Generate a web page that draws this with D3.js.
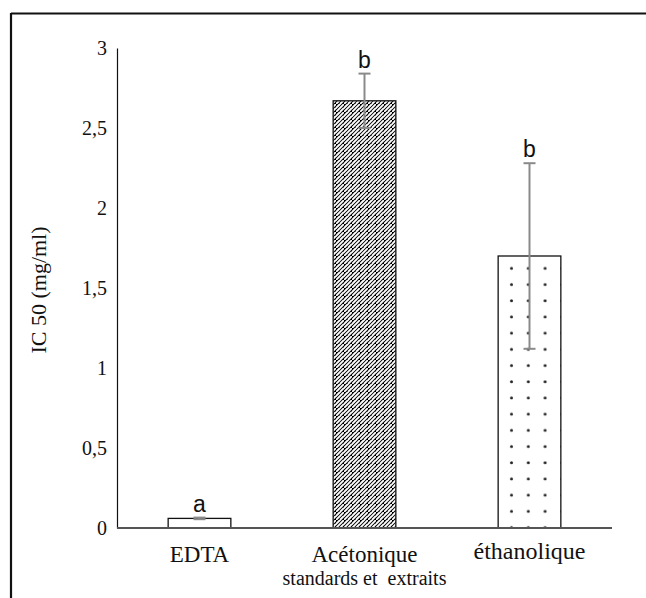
<!DOCTYPE html>
<html>
<head>
<meta charset="utf-8">
<script src="https://cdn.jsdelivr.net/npm/d3@7"></script>
<style>
  html, body { margin: 0; padding: 0; background: #fff; }
  svg { display: block; }
  .serif { font-family: "Liberation Serif", "Times New Roman", serif; }
  .sans { font-family: "Liberation Sans", Arial, sans-serif; }
</style>
</head>
<body>
<svg id="chart" width="646" height="598"></svg>
<script>
// IC 50 values per extract, with standard deviations and significance letters
const categories = ["EDTA", "Acétonique", "éthanolique"];
const values = [0.06, 2.67, 1.70];
const errors = [0.005, 0.17, 0.58];
const letters = ["a", "b", "b"];
const yTicks = [0, 0.5, 1, 1.5, 2, 2.5, 3];
const patterns = ["none", "diag", "dots"];

const svg = d3.select("#chart");

const margin = { left: 117, right: 34, top: 48, bottom: 70 };
const W = 646, H = 598;

const x = d3.scaleBand()
  .domain(categories)
  .range([margin.left, W - margin.right])
  .paddingInner(0.62)
  .paddingOuter(0.31);

const y = d3.scaleLinear()
  .domain([0, 3])
  .range([H - margin.bottom, margin.top]);

// Fill patterns: upward diagonal and sparse dots
const defs = svg.append("defs");
const diag = defs.append("pattern")
  .attr("id", "diag")
  .attr("patternUnits", "userSpaceOnUse")
  .attr("width", 8).attr("height", 8);
diag.append("rect").attr("width", 8).attr("height", 8).attr("fill", "#000");
diag.append("path")
  .attr("d", "M0,4 L4,0 M4,8 L8,4 M-4,8 L0,4 M4,0 L8,-4 M0,8 L8,0")
  .attr("stroke", "#fff").attr("stroke-width", 1.9);

const dots = defs.append("pattern")
  .attr("id", "dots")
  .attr("patternUnits", "userSpaceOnUse")
  .attr("x", 503).attr("y", 260)
  .attr("width", 16.8).attr("height", 16.2);
dots.append("rect").attr("width", 16.8).attr("height", 16.2).attr("fill", "#fff");
dots.append("circle").attr("cx", 8.5).attr("cy", 8.3).attr("r", 1.5).attr("fill", "#222");

// Frame (top and left edges)
svg.append("line").attr("x1", 11).attr("x2", W).attr("y1", 13.5).attr("y2", 13.5)
  .attr("stroke", "#111").attr("stroke-width", 2.2);
svg.append("line").attr("x1", 11).attr("x2", 11).attr("y1", 13).attr("y2", H)
  .attr("stroke", "#111").attr("stroke-width", 2.2);

// Bars
const bw = x.bandwidth();
svg.selectAll("rect.bar")
  .data(categories)
  .join("rect")
  .attr("class", "bar")
  .attr("x", d => x(d))
  .attr("width", bw)
  .attr("y", (d, i) => y(values[i]))
  .attr("height", (d, i) => y(0) - y(values[i]))
  .attr("fill", (d, i) => patterns[i] === "none" ? "#fff" : `url(#${patterns[i]})`)
  .attr("stroke", "#111")
  .attr("stroke-width", 1.3);

// Error bars
const eg = svg.append("g").attr("stroke", "#8a8a8a").attr("stroke-width", 2);
categories.forEach((c, i) => {
  const cx = x(c) + bw / 2;
  const top = y(values[i] + errors[i]);
  const bot = y(values[i] - errors[i]);
  eg.append("line").attr("x1", cx).attr("x2", cx).attr("y1", top).attr("y2", bot);
  eg.append("line").attr("x1", cx - 6).attr("x2", cx + 6).attr("y1", top).attr("y2", top);
  eg.append("line").attr("x1", cx - 6).attr("x2", cx + 6).attr("y1", bot).attr("y2", bot);
});

// Y axis
const yAxis = d3.axisLeft(y)
  .tickValues(yTicks)
  .tickSize(0)
  .tickPadding(10)
  .tickFormat(d => String(d).replace(".", ","));
const ya = svg.append("g")
  .attr("transform", `translate(${margin.left},0)`)
  .call(yAxis);
ya.attr("font-family", null).attr("font-size", null);
ya.select(".domain").attr("stroke", "#111").attr("stroke-width", 1.2);
ya.selectAll("text")
  .attr("class", "serif")
  .style("font-size", "20px")
  .attr("fill", "#111");

// X baseline
svg.append("line")
  .attr("x1", margin.left).attr("x2", W - margin.right)
  .attr("y1", y(0)).attr("y2", y(0))
  .attr("stroke", "#555").attr("stroke-width", 2);

// Category labels
const labelY = [562, 562, 559];
const labelSize = [23, 23, 24];
categories.forEach((c, i) => {
  svg.append("text")
    .attr("class", "serif")
    .attr("x", x(c) + bw / 2)
    .attr("y", labelY[i])
    .attr("text-anchor", "middle")
    .style("font-size", labelSize[i] + "px")
    .attr("fill", "#111")
    .text(c);
});
svg.append("text")
  .attr("class", "serif")
  .attr("x", x(categories[1]) + bw / 2)
  .attr("y", 585)
  .attr("text-anchor", "middle")
  .style("font-size", "20px")
  .attr("fill", "#111")
  .style("white-space", "pre")
  .text("standards et  extraits");

// Significance letters
categories.forEach((c, i) => {
  svg.append("text")
    .attr("class", "sans")
    .attr("x", x(c) + bw / 2)
    .attr("y", y(values[i] + errors[i]) - 6)
    .attr("text-anchor", "middle")
    .style("font-size", "23px")
    .attr("fill", "#111")
    .text(letters[i]);
});

// Y axis title
svg.append("text")
  .attr("class", "serif")
  .attr("transform", `translate(46,290) rotate(-90)`)
  .attr("text-anchor", "middle")
  .style("font-size", "22px")
  .attr("fill", "#111")
  .text("IC 50 (mg/ml)");
</script>
</body>
</html>
